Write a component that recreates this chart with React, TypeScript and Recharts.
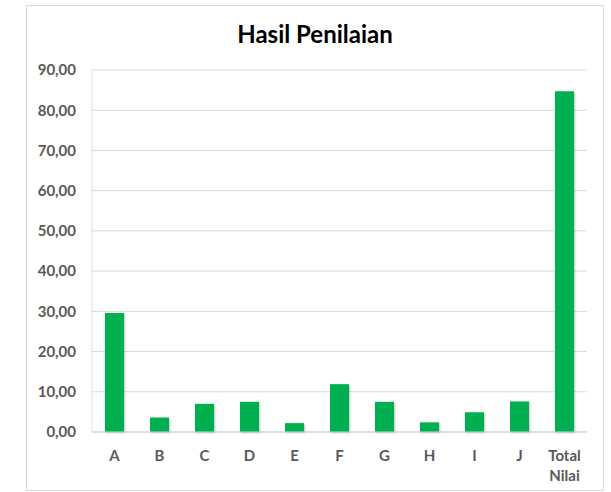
import React from 'react';
import { BarChart, Bar, XAxis, YAxis, CartesianGrid } from 'recharts';

const categories = ['A', 'B', 'C', 'D', 'E', 'F', 'G', 'H', 'I', 'J', 'Total Nilai'];
const nilai = [29.6, 3.6, 7.0, 7.5, 2.2, 11.9, 7.5, 2.4, 4.9, 7.6, 84.7];
const yTicks = [0, 10, 20, 30, 40, 50, 60, 70, 80, 90];
const title = 'Hasil Penilaian';

const data = categories.map((c, i) => ({ name: c, value: nilai[i] }));

const FONT = 'Lato, "Open Sans", sans-serif';
const LABEL_COLOR = '#595959';

const fmt = (v: number) => v.toFixed(2).replace('.', ',');

const XTick = (props: any) => {
  const { x, y, payload } = props;
  const words = String(payload.value).split(' ');
  return (
    <text
      x={x}
      y={y}
      textAnchor="middle"
      fill={LABEL_COLOR}
      fontFamily={FONT}
      fontWeight={700}
      fontSize={15}
    >
      {words.map((w: string, i: number) => (
        <tspan key={i} x={x} y={y + 21 + i * 20}>
          {w}
        </tspan>
      ))}
    </text>
  );
};

export default function App() {
  return (
    <div
      style={{
        position: 'absolute',
        left: 0,
        top: 0,
        width: 611,
        height: 492,
        background: '#fff',
        overflow: 'hidden',
      }}
    >
      <div
        style={{
          position: 'absolute',
          left: 26,
          top: 5,
          width: 578,
          height: 486,
          border: '1px solid #d9d9d9',
          boxSizing: 'border-box',
        }}
      />
      <svg
        width={611}
        height={60}
        style={{ position: 'absolute', left: 0, top: 0 }}
      >
        <text
          x={315}
          y={43}
          textAnchor="middle"
          fontFamily={FONT}
          fontWeight={700}
          fontSize={24}
          fill="#000"
        >
          {title}
        </text>
      </svg>
      <div style={{ position: 'absolute', left: 0, top: 0 }}>
        <BarChart
          width={611}
          height={492}
          data={data}
          margin={{ top: 70, right: 24, bottom: 30, left: 0 }}
          barCategoryGap={0}
        >
          <CartesianGrid vertical={false} stroke="#d9d9d9" />
          <XAxis
            dataKey="name"
            interval={0}
            height={30}
            tickLine={false}
            axisLine={{ stroke: '#c9d2e2' }}
            tick={<XTick />}
          />
          <YAxis
            width={92}
            domain={[0, 90]}
            ticks={yTicks}
            tickFormatter={fmt}
            tickLine={false}
            tickSize={0}
            tickMargin={16}
            axisLine={{ stroke: '#d6def0' }}
            tick={{ fill: LABEL_COLOR, fontFamily: FONT, fontWeight: 700, fontSize: 15 }}
          />
          <YAxis
            yAxisId="right"
            orientation="right"
            width={0}
            domain={[0, 90]}
            tick={false}
            tickLine={false}
            axisLine={{ stroke: '#dde4f2' }}
          />
          <Bar
            dataKey="value"
            fill="#00B050"
            barSize={19}
            isAnimationActive={false}
            style={{ filter: 'drop-shadow(1px 1px 1px rgba(0,0,0,0.25))' }}
          />
        </BarChart>
      </div>
    </div>
  );
}
